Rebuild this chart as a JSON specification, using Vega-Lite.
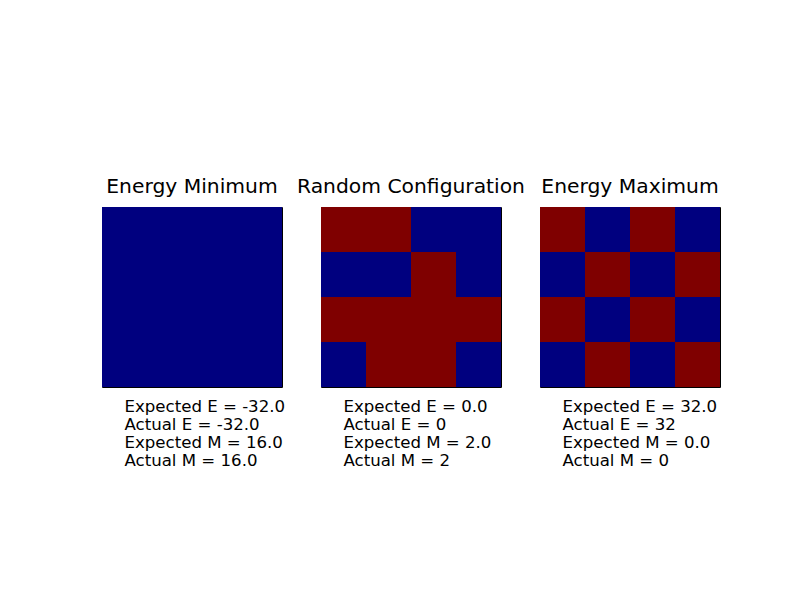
{
  "$schema": "https://vega.github.io/schema/vega-lite/v6.json",
  "background": "white",
  "padding": {"left": 101, "top": 176, "right": 0, "bottom": 0},
  "bounds": "flush",
  "config": {
    "font": "DejaVu Sans",
    "view": {"stroke": "black", "strokeWidth": 1},
    "title": {"fontSize": 20.3, "fontWeight": "normal", "color": "black", "offset": 10, "font": "DejaVu Sans"},
    "axisX": {
      "labels": false, "ticks": false, "domain": false, "grid": false,
      "titleFont": "DejaVu Sans", "titleFontSize": 16.6, "titleFontWeight": "normal", "titleColor": "black",
      "titleAnchor": "start", "titleAlign": "left", "titleX": 22, "titleBaseline": "top",
      "titlePadding": 11, "titleLineHeight": 18
    },
    "concat": {"spacing": 39}
  },
  "data": {
    "values": [
      {"panel": "min", "row": 0, "col": 0, "spin": -1}, {"panel": "min", "row": 0, "col": 1, "spin": -1}, {"panel": "min", "row": 0, "col": 2, "spin": -1}, {"panel": "min", "row": 0, "col": 3, "spin": -1},
      {"panel": "min", "row": 1, "col": 0, "spin": -1}, {"panel": "min", "row": 1, "col": 1, "spin": -1}, {"panel": "min", "row": 1, "col": 2, "spin": -1}, {"panel": "min", "row": 1, "col": 3, "spin": -1},
      {"panel": "min", "row": 2, "col": 0, "spin": -1}, {"panel": "min", "row": 2, "col": 1, "spin": -1}, {"panel": "min", "row": 2, "col": 2, "spin": -1}, {"panel": "min", "row": 2, "col": 3, "spin": -1},
      {"panel": "min", "row": 3, "col": 0, "spin": -1}, {"panel": "min", "row": 3, "col": 1, "spin": -1}, {"panel": "min", "row": 3, "col": 2, "spin": -1}, {"panel": "min", "row": 3, "col": 3, "spin": -1},
      {"panel": "rand", "row": 0, "col": 0, "spin": 1}, {"panel": "rand", "row": 0, "col": 1, "spin": 1}, {"panel": "rand", "row": 0, "col": 2, "spin": -1}, {"panel": "rand", "row": 0, "col": 3, "spin": -1},
      {"panel": "rand", "row": 1, "col": 0, "spin": -1}, {"panel": "rand", "row": 1, "col": 1, "spin": -1}, {"panel": "rand", "row": 1, "col": 2, "spin": 1}, {"panel": "rand", "row": 1, "col": 3, "spin": -1},
      {"panel": "rand", "row": 2, "col": 0, "spin": 1}, {"panel": "rand", "row": 2, "col": 1, "spin": 1}, {"panel": "rand", "row": 2, "col": 2, "spin": 1}, {"panel": "rand", "row": 2, "col": 3, "spin": 1},
      {"panel": "rand", "row": 3, "col": 0, "spin": -1}, {"panel": "rand", "row": 3, "col": 1, "spin": 1}, {"panel": "rand", "row": 3, "col": 2, "spin": 1}, {"panel": "rand", "row": 3, "col": 3, "spin": -1},
      {"panel": "max", "row": 0, "col": 0, "spin": 1}, {"panel": "max", "row": 0, "col": 1, "spin": -1}, {"panel": "max", "row": 0, "col": 2, "spin": 1}, {"panel": "max", "row": 0, "col": 3, "spin": -1},
      {"panel": "max", "row": 1, "col": 0, "spin": -1}, {"panel": "max", "row": 1, "col": 1, "spin": 1}, {"panel": "max", "row": 1, "col": 2, "spin": -1}, {"panel": "max", "row": 1, "col": 3, "spin": 1},
      {"panel": "max", "row": 2, "col": 0, "spin": 1}, {"panel": "max", "row": 2, "col": 1, "spin": -1}, {"panel": "max", "row": 2, "col": 2, "spin": 1}, {"panel": "max", "row": 2, "col": 3, "spin": -1},
      {"panel": "max", "row": 3, "col": 0, "spin": -1}, {"panel": "max", "row": 3, "col": 1, "spin": 1}, {"panel": "max", "row": 3, "col": 2, "spin": -1}, {"panel": "max", "row": 3, "col": 3, "spin": 1}
    ]
  },
  "hconcat": [
    {
      "title": "Energy Minimum",
      "width": 180, "height": 180,
      "transform": [{"filter": "datum.panel === 'min'"}],
      "mark": {"type": "rect"},
      "encoding": {
        "x": {"field": "col", "type": "ordinal", "scale": {"paddingInner": 0, "paddingOuter": 0},
              "axis": {"title": ["Expected E = -32.0", "Actual E = -32.0", "Expected M = 16.0", "Actual M = 16.0"]}},
        "y": {"field": "row", "type": "ordinal", "scale": {"paddingInner": 0, "paddingOuter": 0}, "axis": null},
        "color": {"field": "spin", "type": "quantitative", "scale": {"domain": [-1, 1], "range": ["#00007f", "#7f0000"]}, "legend": null}
      }
    },
    {
      "title": "Random Configuration",
      "width": 180, "height": 180,
      "transform": [{"filter": "datum.panel === 'rand'"}],
      "mark": {"type": "rect"},
      "encoding": {
        "x": {"field": "col", "type": "ordinal", "scale": {"paddingInner": 0, "paddingOuter": 0},
              "axis": {"title": ["Expected E = 0.0", "Actual E = 0", "Expected M = 2.0", "Actual M = 2"]}},
        "y": {"field": "row", "type": "ordinal", "scale": {"paddingInner": 0, "paddingOuter": 0}, "axis": null},
        "color": {"field": "spin", "type": "quantitative", "scale": {"domain": [-1, 1], "range": ["#00007f", "#7f0000"]}, "legend": null}
      }
    },
    {
      "title": "Energy Maximum",
      "width": 180, "height": 180,
      "transform": [{"filter": "datum.panel === 'max'"}],
      "mark": {"type": "rect"},
      "encoding": {
        "x": {"field": "col", "type": "ordinal", "scale": {"paddingInner": 0, "paddingOuter": 0},
              "axis": {"title": ["Expected E = 32.0", "Actual E = 32", "Expected M = 0.0", "Actual M = 0"]}},
        "y": {"field": "row", "type": "ordinal", "scale": {"paddingInner": 0, "paddingOuter": 0}, "axis": null},
        "color": {"field": "spin", "type": "quantitative", "scale": {"domain": [-1, 1], "range": ["#00007f", "#7f0000"]}, "legend": null}
      }
    }
  ]
}
